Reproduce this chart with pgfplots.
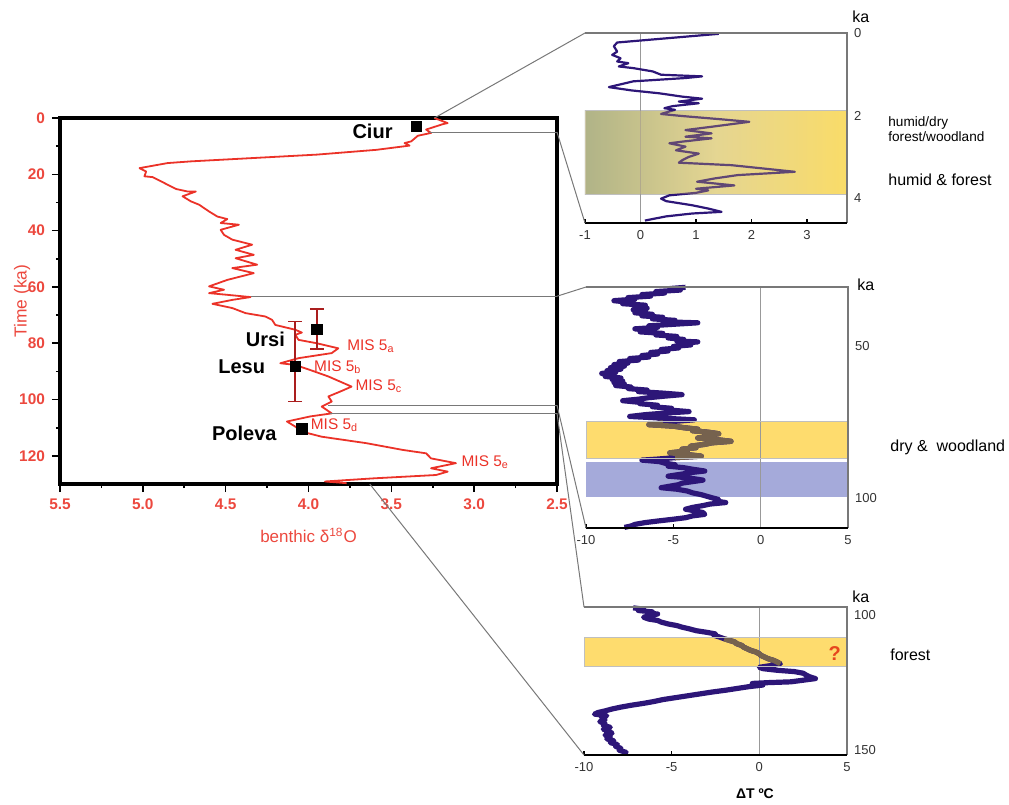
\documentclass[border=0pt]{standalone}
\usepackage{pgfplots}
\usepackage{pgfplotstable}
\pgfplotsset{compat=1.18}
\usepackage{fontspec}
\setmainfont{Liberation Sans}
\definecolor{curvered}{RGB}{235,50,40}
\definecolor{tickred}{RGB}{236,72,62}
\definecolor{errred}{RGB}{170,30,30}
\definecolor{navy}{RGB}{45,22,120}
\definecolor{brownline}{RGB}{118,98,78}
\definecolor{bandyel}{RGB}{254,220,110}
\definecolor{bandgreen}{RGB}{152,166,146}
\definecolor{bandmid}{RGB}{222,212,160}
\definecolor{bandyel2}{RGB}{250,220,105}
\definecolor{bandblue}{RGB}{165,170,218}
\definecolor{conn}{RGB}{120,120,120}

\pgfplotstableread{
x y
-4.3 30.6
-5.2 31.0
-4.6 31.5
-6.0 32.0
-5.5 32.5
-6.8 33.0
-6.3 33.5
-7.6 34.0
-7.2 34.5
-8.4 35.0
-7.6 35.5
-7.9 36.0
-6.6 36.5
-7.2 37.0
-6.5 37.5
-7.3 38.0
-6.6 38.5
-7.2 39.0
-6.2 39.5
-6.8 40.0
-5.6 40.5
-6.2 41.0
-4.9 41.5
-5.4 42.0
-3.6 42.3
-5.0 42.8
-6.4 43.3
-5.9 43.8
-7.2 44.3
-6.4 44.8
-6.9 45.3
-5.6 45.8
-6.0 46.3
-4.8 46.8
-5.3 47.3
-4.4 47.8
-4.8 48.3
-3.6 48.6
-4.5 49.1
-4.0 49.6
-5.0 50.1
-4.7 50.6
-5.7 51.1
-5.3 51.6
-6.3 52.1
-5.9 52.6
-6.8 53.1
-6.4 53.6
-7.5 54.1
-7.0 54.6
-8.1 55.1
-7.6 55.6
-8.4 56.1
-7.8 56.6
-8.6 57.1
-8.0 57.6
-8.8 58.1
-8.3 58.6
-9.1 59.0
-8.4 59.5
-8.9 60.0
-8.0 60.5
-8.5 61.0
-7.9 61.5
-8.4 62.0
-7.8 62.5
-8.3 63.0
-7.4 63.5
-7.6 64.0
-6.5 64.5
-7.0 65.0
-5.6 65.5
-4.5 66.0
-5.5 66.5
-6.4 67.0
-7.0 67.5
-7.9 68.0
-7.0 68.5
-6.9 69.0
-5.9 69.5
-6.2 70.0
-5.1 70.5
-5.4 71.0
-4.1 71.6
-5.5 72.1
-6.6 72.6
-7.5 73.2
-5.8 73.7
-3.8 74.3
-4.9 74.8
-5.6 75.3
-6.4 75.9
-5.0 76.4
-4.4 76.9
-3.6 77.4
-3.9 77.9
-3.0 78.4
-2.4 78.9
-3.2 79.4
-2.9 79.9
-3.6 80.3
-2.6 80.8
-1.7 81.4
-2.8 81.9
-3.2 82.4
-4.0 83.0
-3.7 83.5
-4.5 84.0
-4.2 84.6
-5.2 85.2
-4.3 85.7
-3.4 86.3
-4.9 86.8
-6.0 87.3
-6.8 87.6
-5.8 88.1
-5.5 88.6
-4.9 89.1
-5.3 89.6
-4.4 90.1
-3.9 90.6
-3.2 91.2
-4.0 91.7
-4.5 92.2
-5.3 92.9
-4.2 93.4
-3.3 94.2
-3.9 94.7
-4.5 95.2
-4.7 95.7
-5.2 96.2
-5.7 96.7
-4.8 97.2
-4.2 97.8
-3.9 98.4
-3.4 99.0
-3.1 99.5
-2.8 100.0
-2.4 100.6
-2.6 101.1
-2.0 101.6
-2.9 102.1
-3.3 102.6
-3.9 103.2
-4.3 103.8
-3.8 104.3
-3.3 104.9
-3.2 105.5
-3.9 106.0
-4.3 106.6
-5.0 107.1
-5.9 107.7
-6.6 108.2
-7.2 108.8
-7.4 109.3
-7.8 109.8
}\midT

\pgfplotstableread{
x y
-7.2 97.3
-6.6 97.8
-6.9 98.3
-6.1 98.8
-6.3 99.3
-5.8 99.6
-6.3 100.2
-6.6 100.8
-6.3 101.5
-5.8 102.0
-5.6 102.6
-5.2 103.3
-4.7 103.9
-4.4 104.5
-4.0 105.1
-3.6 105.8
-3.0 106.4
-2.5 107.0
-2.6 107.5
-2.3 108.1
-2.0 108.8
-1.7 109.4
-1.4 110.0
-1.3 110.6
-1.0 111.3
-0.9 111.9
-0.7 112.5
-0.5 113.1
-0.2 113.7
0.0 114.4
0.1 115.0
0.3 115.6
0.5 116.2
0.8 116.8
1.0 117.4
1.2 118.1
0.6 118.8
0.0 119.4
0.2 119.9
1.0 120.5
2.0 121.0
2.5 121.6
2.7 122.4
2.9 123.0
3.2 123.6
2.5 124.2
1.8 124.8
0.5 125.1
-0.4 125.4
0.2 126.0
-0.6 126.6
-1.3 127.3
-1.9 127.9
-2.7 128.6
-3.4 129.3
-4.1 130.0
-4.8 130.7
-5.5 131.4
-6.0 132.1
-6.6 132.8
-7.3 133.5
-7.9 134.2
-8.4 134.9
-8.8 135.6
-9.2 136.2
-9.4 136.8
-8.7 137.4
-9.0 138.1
-8.8 138.9
-9.1 139.6
-8.8 140.3
-8.9 141.0
-8.5 141.7
-8.9 142.4
-8.6 143.1
-8.4 143.9
-8.8 144.6
-8.5 145.3
-8.7 146.0
-8.3 146.7
-8.5 147.4
-8.1 148.1
-8.2 148.8
-7.9 149.5
-8.0 150.2
-7.6 151.0
-7.7 151.6
}\botT

\pgfplotsset{panel/.style={
  scale only axis, y dir=reverse,
  axis line style={draw=none},
  xtick pos=left, yticklabel pos=right,
  tick align=inside, major tick length=2pt,
  ytick style={draw=none}, xtick style={black, line width=0.6pt},
  tick label style={font=\fontsize{6.5}{8}\selectfont, text=black!80},
  /pgf/number format/assume math mode=true,
  clip=false,
}}

\begin{document}
\begin{tikzpicture}
\useasboundingbox (0pt,0pt) rectangle (504.5pt,-402.5pt);

% ---------------- main axis ----------------
\begin{axis}[
  at={(30pt,-242pt)}, anchor=south west, scale only axis,
  width=248.5pt, height=183pt,
  x dir=reverse, xmin=2.5, xmax=5.5,
  y dir=reverse, ymin=0, ymax=130,
  xtick={2.5,3,3.5,4,4.5,5,5.5}, ytick={0,20,40,60,80,100,120},
  minor x tick num=1, minor y tick num=1,
  tick align=outside, xtick pos=left, ytick pos=left,
  major tick length=4pt, minor tick length=2pt,
  every tick/.style={black, line width=0.8pt},
  axis line style={line width=1.6pt, black},
  tick label style={font=\fontsize{7.7}{9}\selectfont\bfseries, text=tickred},
  /pgf/number format/assume math mode=true,
  xticklabel style={/pgf/number format/.cd, fixed, fixed zerofill, precision=1},
  xlabel={benthic δ\textsuperscript{18}O},
  ylabel={Time (ka)},
  xlabel style={at={(axis description cs:0.5,-0.14)}, anchor=center, font=\fontsize{8.5}{10}\selectfont, text=tickred},
  ylabel style={at={(axis description cs:-0.076,0.5)}, anchor=center, font=\fontsize{8.7}{10}\selectfont, text=tickred},
  clip=false,
]
\addplot[curvered, line width=0.9pt, line join=round] table {
3.24 0
3.16 1.8
3.19 2.2
3.29 4.1
3.26 5.3
3.34 6.3
3.38 8.3
3.42 8.9
3.39 9.8
3.59 11.3
3.95 13.0
4.33 14.2
4.71 15.4
4.85 16.0
5.02 17.8
4.98 19.0
4.99 20.7
4.94 21.0
4.89 22.5
4.85 23.7
4.80 25.2
4.73 26.1
4.68 26.1
4.76 27.8
4.71 29.6
4.66 30.8
4.60 33.2
4.55 35.0
4.49 35.9
4.53 37.3
4.42 37.9
4.53 39.7
4.51 41.5
4.46 43.2
4.34 45.0
4.44 46.8
4.33 48.6
4.44 49.8
4.31 52.1
4.46 53.3
4.33 55.1
4.49 57.5
4.60 59.8
4.51 61.0
4.60 62.2
4.49 62.8
4.35 63.6
4.46 64.6
4.58 66.0
4.46 67.5
4.38 69.3
4.26 70.5
4.22 71.7
4.20 73.5
4.08 75.2
4.04 76.2
4.08 77.0
4.06 78.8
3.95 80.0
3.82 81.8
3.86 83.5
4.06 85.3
4.17 87.1
4.08 87.7
3.99 89.5
3.88 91.8
3.74 95.4
3.81 97.2
3.88 98.9
3.86 100.7
3.92 102.5
3.86 104.9
3.99 106.0
4.13 107.8
4.08 109.6
4.04 111.4
3.92 113.2
3.65 115.5
3.43 117.9
3.29 119.1
3.26 120.9
3.11 122.6
3.26 124.4
3.16 125.6
3.23 126.8
3.61 128.0
3.90 129.1
3.77 129.7
};
\addplot[only marks, mark=square*, mark size=2.6pt, black,
  error bars/.cd, y dir=both, y explicit,
  error bar style={errred, line width=0.8pt},
  error mark options={errred, rotate=90, mark size=3.5pt, line width=0.8pt}]
  coordinates {(3.95,75) +- (0,7.1) (4.08,88.3) += (0,12.4) -= (0,16)};
\addplot[only marks, mark=square*, mark size=2.6pt, black] coordinates {(3.35,3.0) (4.04,110.4)};

\node[font=\fontsize{10}{12}\selectfont\bfseries, anchor=east] at (axis cs:3.45,4.7) {Ciur};
\node[font=\fontsize{10}{12}\selectfont\bfseries, anchor=east] at (axis cs:4.10,78.6) {Ursi};
\node[font=\fontsize{10}{12}\selectfont\bfseries, anchor=east] at (axis cs:4.22,88.3) {Lesu};
\node[font=\fontsize{10}{12}\selectfont\bfseries, anchor=east] at (axis cs:4.15,112) {Poleva};
\begin{scope}[every node/.style={font=\fontsize{7.7}{9}\selectfont, text=curvered, anchor=west, inner sep=1pt}]
\node at (axis cs:3.78,81.2) {MIS 5\textsubscript{a}};
\node at (axis cs:3.98,88.6) {MIS 5\textsubscript{b}};
\node at (axis cs:3.73,95.4) {MIS 5\textsubscript{c}};
\node at (axis cs:4.00,109.2) {MIS 5\textsubscript{d}};
\node at (axis cs:3.09,122.4) {MIS 5\textsubscript{e}};
\end{scope}

\coordinate (m0) at (axis cs:3.24,0);
\coordinate (m1a) at (axis cs:3.27,5);
\coordinate (m1b) at (axis cs:2.5,5);
\coordinate (m2a) at (axis cs:4.35,63.3);
\coordinate (m2b) at (axis cs:2.5,63.3);
\coordinate (m3a) at (axis cs:3.88,102);
\coordinate (m3b) at (axis cs:2.5,102);
\coordinate (m4a) at (axis cs:3.87,104.8);
\coordinate (m4b) at (axis cs:2.5,104.8);
\coordinate (m5) at (axis cs:3.63,130);
\draw[conn, line width=0.5pt] (m1a) -- (m1b);
\draw[conn, line width=0.5pt] (m2a) -- (m2b);
\draw[conn, line width=0.5pt] (m3a) -- (m3b);
\draw[conn, line width=0.5pt] (m4a) -- (m4b);
\end{axis}

% ---------------- top panel ----------------
\begin{axis}[panel,
  at={(292.5pt,-111.5pt)}, anchor=south west,
  width=131pt, height=95pt,
  xmin=-1, xmax=3.72, ymin=0, ymax=4.6,
  xtick={-1,0,1,2,3}, ytick={0,2,4},
]
\shade[left color=bandgreen, right color=bandyel2, middle color=bandmid] (axis cs:-1,1.88) rectangle (axis cs:3.72,3.90);
\draw[gray!50, line width=0.4pt] (axis cs:-1,1.88) rectangle (axis cs:3.72,3.90);
\draw[gray!80, line width=0.6pt] (axis cs:0,0) -- (axis cs:0,4.6);
\addplot[navy, line width=1.1pt, line join=round] table {
1.41 0.02
-0.42 0.23
-0.48 0.32
-0.42 0.45
-0.51 0.53
-0.36 0.61
-0.42 0.69
-0.22 0.73
-0.39 0.81
-0.13 0.85
0.22 0.93
0.37 1.01
1.11 1.05
0.81 1.09
-0.13 1.17
-0.57 1.31
-0.16 1.39
0.34 1.46
0.75 1.54
1.11 1.59
0.69 1.66
1.05 1.70
0.58 1.77
0.43 1.82
0.62 1.86
0.37 1.96
0.75 2.01
1.46 2.09
1.96 2.15
1.28 2.27
0.81 2.35
1.28 2.43
0.81 2.51
1.28 2.55
0.75 2.63
0.52 2.67
0.81 2.75
0.64 2.84
1.05 2.92
0.87 3.00
0.75 3.08
0.69 3.14
1.64 3.20
2.78 3.36
1.75 3.44
1.34 3.52
1.02 3.60
1.69 3.69
1.00 3.77
1.22 3.81
1.00 3.87
0.52 3.93
0.37 4.01
0.46 4.07
0.93 4.17
1.22 4.25
1.46 4.33
0.93 4.37
0.46 4.44
0.08 4.54
};
\fill[bandyel2, fill opacity=0.25] (axis cs:-1,1.88) rectangle (axis cs:3.72,3.90);
\draw[conn, line width=0.6pt] (axis description cs:0,1) -- (axis description cs:1,1) -- (axis description cs:1,0);
\draw[black, line width=1.2pt] (axis description cs:0,0) -- (axis description cs:1,0);
\coordinate (Ttl) at (axis description cs:0,1);
\coordinate (Tbl) at (axis description cs:0,0);
\end{axis}

% ---------------- middle panel ----------------
\begin{axis}[panel,
  at={(293pt,-264pt)}, anchor=south west,
  width=131pt, height=120.5pt,
  xmin=-10, xmax=5, ymin=30.5, ymax=110,
  xtick={-10,-5,0,5}, ytick={50,100},
]
\fill[bandyel] (axis cs:-10,74.8) rectangle (axis cs:5,87.2);
\fill[bandblue] (axis cs:-10,88.3) rectangle (axis cs:5,99.7);
\draw[gray!80, line width=0.6pt] (axis cs:0,30.5) -- (axis cs:0,110);
\addplot[navy, line width=2.6pt, line join=round] table[x=x, y=y] {\midT};
\addplot[brownline, line width=2.6pt, line join=round, restrict y to domain=75.2:86.8] table[x=x, y=y] {\midT};
\draw[gray!50, line width=0.4pt] (axis cs:-10,74.8) rectangle (axis cs:5,87.2);
\draw[conn, line width=0.6pt] (axis description cs:0,1) -- (axis description cs:1,1) -- (axis description cs:1,0);
\draw[black, line width=1.2pt] (axis description cs:0,0) -- (axis description cs:1,0);
\coordinate (Mtl) at (axis description cs:0,1);
\coordinate (Mbl) at (axis description cs:0,0);
\end{axis}

% ---------------- bottom panel ----------------
\begin{axis}[panel,
  at={(292pt,-377.5pt)}, anchor=south west,
  width=131.5pt, height=74pt,
  xmin=-10, xmax=5, ymin=97, ymax=152,
  xtick={-10,-5,0,5}, ytick={100,150},
]
\fill[bandyel] (axis cs:-10,108.2) rectangle (axis cs:5,119.0);
\draw[gray!80, line width=0.6pt] (axis cs:0,97) -- (axis cs:0,152);
\addplot[navy, line width=2.6pt, line join=round] table[x=x, y=y] {\botT};
\addplot[brownline, line width=2.6pt, line join=round, restrict y to domain=108.6:118.6] table[x=x, y=y] {\botT};
\draw[gray!50, line width=0.4pt] (axis cs:-10,108.2) rectangle (axis cs:5,119.0);
\node[font=\fontsize{10}{12}\selectfont\bfseries, text={rgb,255:red,230;green,70;blue,30}] at (axis cs:4.3,114.1) {?};
\draw[conn, line width=0.6pt] (axis description cs:0,1) -- (axis description cs:1,1) -- (axis description cs:1,0);
\draw[black, line width=1.2pt] (axis description cs:0,0) -- (axis description cs:1,0);
\coordinate (Btl) at (axis description cs:0,1);
\coordinate (Bbl) at (axis description cs:0,0);
\end{axis}

% ---------------- connectors ----------------
\draw[conn, line width=0.5pt] (m0) -- (Ttl);
\draw[conn, line width=0.5pt] (m1b) -- (Tbl);
\draw[conn, line width=0.5pt] (m2b) -- (Mtl);
\draw[conn, line width=0.5pt] (m3b) -- (Mbl);
\draw[conn, line width=0.5pt] (m4b) -- (Btl);
\draw[conn, line width=0.5pt] (m5) -- (Bbl);

% ---------------- side texts ----------------
\begin{scope}[every node/.style={inner sep=0pt}]
\node[anchor=west, font=\fontsize{8}{9}\selectfont] at (426pt,-8.5pt) {ka};
\node[anchor=west, font=\fontsize{8}{9}\selectfont] at (428.5pt,-142.5pt) {ka};
\node[anchor=west, font=\fontsize{8}{9}\selectfont] at (426pt,-298.5pt) {ka};
\node[anchor=west, align=left, font=\fontsize{6.8}{6.3}\selectfont] at (444pt,-64.5pt) {humid/dry\\forest/woodland};
\node[anchor=west, font=\fontsize{8}{9}\selectfont] at (444pt,-90pt) {humid \& forest};
\node[anchor=west, font=\fontsize{8}{9}\selectfont] at (445pt,-223.5pt) {dry \&\ \ woodland};
\node[anchor=west, font=\fontsize{8}{9}\selectfont] at (445pt,-327.5pt) {forest};
\node[font=\fontsize{7}{8}\selectfont\bfseries] at (377.5pt,-397pt) {ΔT ºC};
\end{scope}
\end{tikzpicture}
\end{document}
